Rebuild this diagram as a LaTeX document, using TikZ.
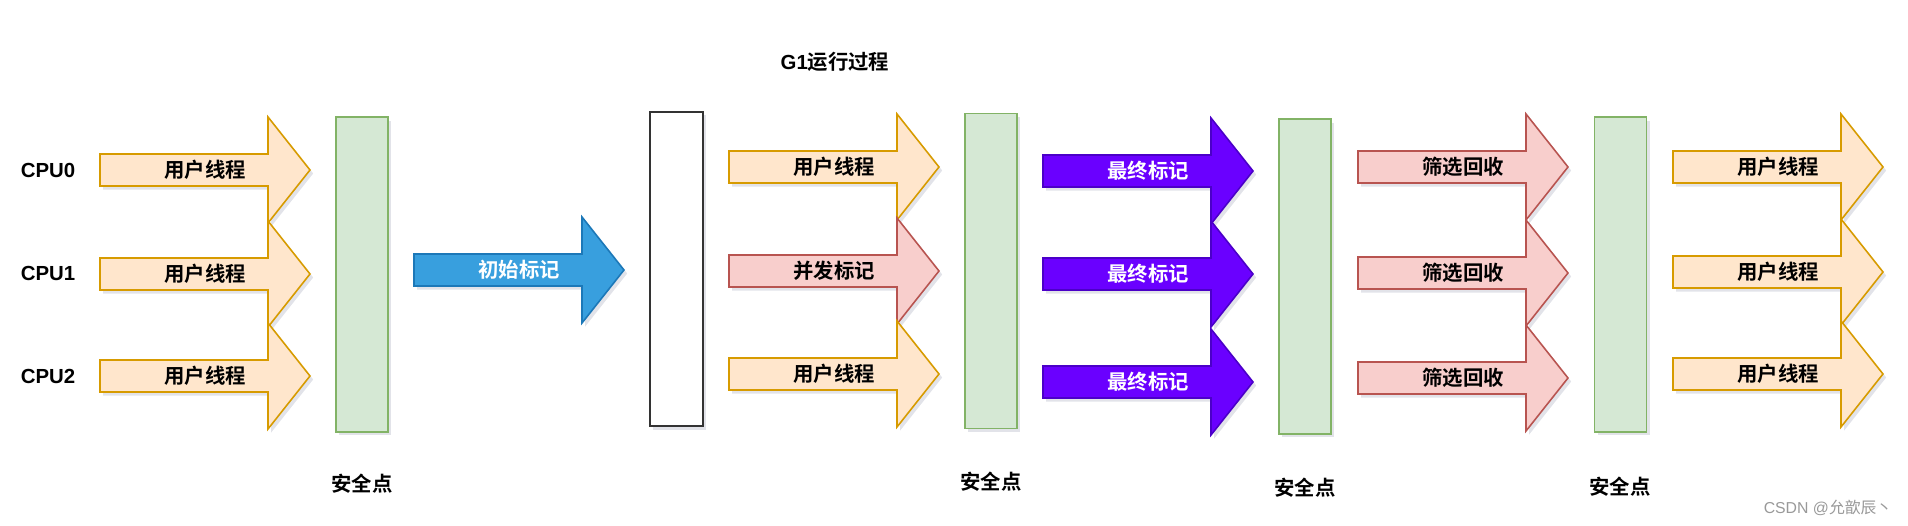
\documentclass[tikz,border=0pt]{standalone}
\usepackage{fontspec}
\setmainfont{Noto Sans CJK SC}[BoldFont={Noto Sans CJK SC Bold}]
\newfontfamily\latinfont{Liberation Sans}
\usetikzlibrary{shadows}

\definecolor{userfill}{HTML}{FFE6CC}
\definecolor{userline}{HTML}{D79B00}
\definecolor{markfill}{HTML}{F8CECC}
\definecolor{markline}{HTML}{B85450}
\definecolor{safefill}{HTML}{D5E8D4}
\definecolor{safeline}{HTML}{82B366}
\definecolor{initfill}{HTML}{389FDE}
\definecolor{initline}{HTML}{1C78B8}
\definecolor{finalfill}{HTML}{6A00FF}
\definecolor{finalline}{HTML}{4B00C8}
\definecolor{shadowgray}{HTML}{8A90A8}

\tikzset{
  softshadow/.style={drop shadow={shadow xshift=1.8pt,shadow yshift=-2pt,opacity=0.25,fill=shadowgray}},
  userarrow/.style={fill=userfill,draw=userline,softshadow},
  markarrow/.style={fill=markfill,draw=markline,softshadow},
  initarrow/.style={fill=initfill,draw=initline,softshadow},
  finalarrow/.style={fill=finalfill,draw=finalline,softshadow},
  safebar/.style={draw=safeline,fill=safefill,minimum width=1.04cm,minimum height=6.3cm,softshadow},
  startbar/.style={draw=black!80,fill=white,minimum width=1.06cm,minimum height=6.29cm,softshadow},
  atext/.style={font=\fontsize{11.6}{14}\selectfont\bfseries,inner sep=0pt},
  lbl/.style={font=\fontsize{11.6}{14}\selectfont\bfseries,inner sep=0pt},
}

% arrow: style, name, left x, middle y, text
\newcommand\procarrow[5]{%
  \draw[#1] (#3,#4-16) -- (#3+168,#4-16) -- (#3+168,#4-53) -- (#3+210,#4)
    -- (#3+168,#4+53) -- (#3+168,#4+16) -- (#3,#4+16) -- cycle;
  \node[atext] (#2) at (#3+105,#4) {#5};}

\begin{document}
\begin{tikzpicture}[x=0.02cm,y=-0.02cm,line width=0.9pt,line join=miter]
  \useasboundingbox (0,0) rectangle (1908,526);

  % cpus
  \node[lbl] (cpu0) at (48,170) {\latinfont CPU0};
  \node[lbl] (cpu1) at (48,273) {\latinfont CPU1};
  \node[lbl] (cpu2) at (48,376) {\latinfont CPU2};
  \node[lbl] (title) at (835,62) {{\latinfont G1}运行过程};

  % user threads before the first safe point
  \procarrow{userarrow}{ua0}{100}{170}{用户线程}
  \procarrow{userarrow}{ua1}{100}{274}{用户线程}
  \procarrow{userarrow}{ua2}{100}{376}{用户线程}

  \procarrow{initarrow}{init}{414}{270}{\color{white}初始标记}

  \procarrow{userarrow}{ub0}{729}{167}{用户线程}
  \procarrow{markarrow}{ub1}{729}{271}{并发标记}
  \procarrow{userarrow}{ub2}{729}{374}{用户线程}

  \procarrow{finalarrow}{fm0}{1043}{171}{\color{white}最终标记}
  \procarrow{finalarrow}{fm1}{1043}{274}{\color{white}最终标记}
  \procarrow{finalarrow}{fm2}{1043}{382}{\color{white}最终标记}

  \procarrow{markarrow}{sc0}{1358}{167}{筛选回收}
  \procarrow{markarrow}{sc1}{1358}{273}{筛选回收}
  \procarrow{markarrow}{sc2}{1358}{378}{筛选回收}

  \procarrow{userarrow}{uc0}{1673}{167}{用户线程}
  \procarrow{userarrow}{uc1}{1673}{272}{用户线程}
  \procarrow{userarrow}{uc2}{1673}{374}{用户线程}

  % safe points
  \node[safebar] (sp1) at (362,274.5) {};
  \node[startbar] (st) at (676.5,269) {};
  \node[safebar] (sp2) at (991,271) {};
  \node[safebar] (sp3) at (1305,276.5) {};
  \node[safebar] (sp4) at (1620.5,274.5) {};

  \node[lbl] (sl1) at (362,484) {安全点};
  \node[lbl] (sl2) at (991,482) {安全点};
  \node[lbl] (sl3) at (1305,488) {安全点};
  \node[lbl] (sl4) at (1620,487) {安全点};

  \node[font=\fontsize{9}{11}\selectfont,text=black!40,inner sep=0pt] (mark) at (1828,508) {{\latinfont CSDN @}允歆辰丶};
\end{tikzpicture}
\end{document}
